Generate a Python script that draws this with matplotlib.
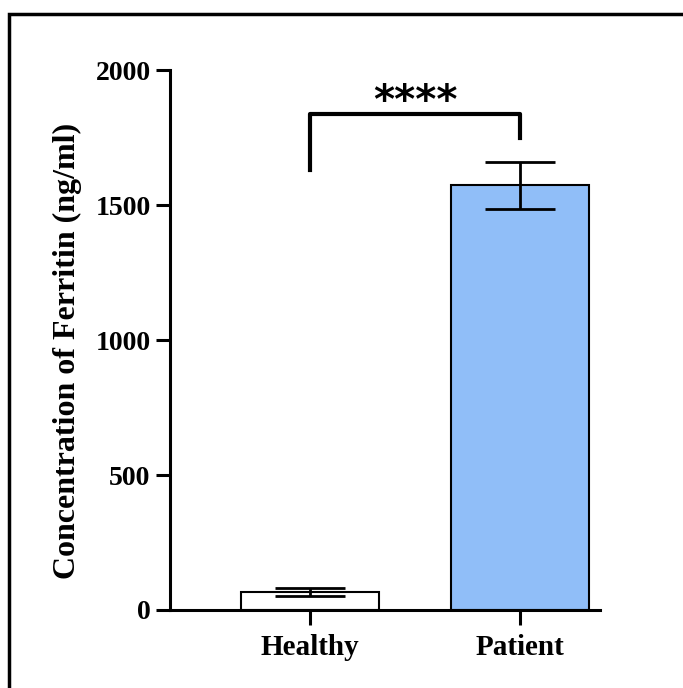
import matplotlib.pyplot as plt
from matplotlib.patches import Rectangle

groups = ["Healthy", "Patient"]
means = [67, 1574]
errors = [14, 87]
bar_colors = ["white", "#90BEF8"]
yticks = [0, 500, 1000, 1500, 2000]

plt.rcParams["font.family"] = ["Liberation Serif", "DejaVu Serif"]
plt.rcParams["font.weight"] = "bold"

fig = plt.figure(figsize=(6.83, 6.88), dpi=100)
ax = fig.add_axes([0.249, 0.1134, 0.629, 0.7846])

x = list(range(len(groups)))
ax.bar(x, means, width=0.66, color=bar_colors, edgecolor="black", linewidth=1.5, zorder=2)
ax.errorbar(x, means, yerr=errors, fmt="none", ecolor="black", elinewidth=2,
            capsize=25, capthick=2, zorder=3)

# significance bracket
ax.plot([0, 0, 1, 1], [1630, 1837, 1837, 1748], color="black", lw=3, clip_on=False)
ax.text(0.5, 1840, "****", ha="center", va="baseline", fontsize=29, fontweight="bold",
        family="DejaVu Sans")

ax.set_xlim(-0.667, 1.38)
ax.set_ylim(0, 2000)
ax.set_yticks(yticks)
ax.set_xticks(x)
ax.set_xticklabels(groups, fontsize=21, fontweight="bold")
ax.tick_params(axis="y", labelsize=20, width=2.2, length=10, pad=4)
ax.tick_params(axis="x", width=2.2, length=11, pad=6)
for lab in ax.get_yticklabels():
    lab.set_fontweight("bold")

ax.spines["top"].set_visible(False)
ax.spines["right"].set_visible(False)
ax.spines["left"].set_linewidth(2.2)
ax.spines["bottom"].set_linewidth(2.2)

ax.set_ylabel("Concentration of Ferritin (ng/ml)", fontsize=23, fontweight="bold")
ax.yaxis.set_label_coords(-0.205, 0.48)

# outer frame
fig.patches.append(Rectangle((9 / 683, -0.1), 1.2, 1 - 14 / 688 + 0.1, transform=fig.transFigure,
                             fill=False, edgecolor="black", linewidth=2.5))

plt.savefig("out.png", dpi=100)
